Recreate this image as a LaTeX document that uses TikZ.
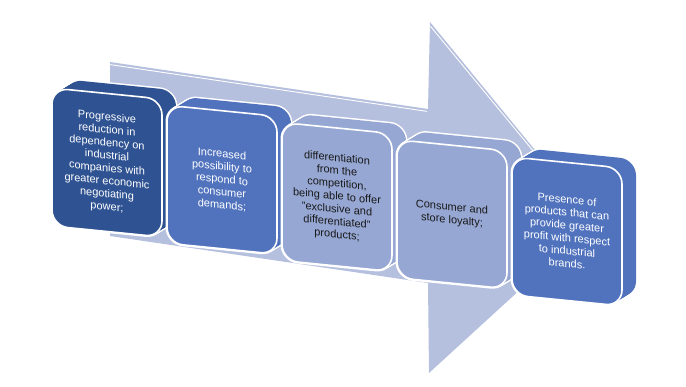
\documentclass[tikz,border=0pt]{standalone}
\usepackage{fontspec}
\setmainfont{Liberation Sans}
\definecolor{arrowc}{RGB}{181,191,222}
\definecolor{cdark}{RGB}{47,83,146}
\definecolor{cmid}{RGB}{81,115,190}
\definecolor{clight}{RGB}{150,167,211}
\definecolor{ctext}{RGB}{25,25,25}
\tikzset{
  stagetext/.style={transform shape, align=center, inner sep=0pt,
    font=\fontsize{11}{12.8}\selectfont},
  boxcorner/.style={rounded corners=16pt}
}
\newcommand{\stage}[6]{%
  \begin{scope}[shift={(#1,#2)}, yslant=-0.1]
    \foreach \k in {0,...,10}
      \path[fill=#3, draw=white, line width=3pt, boxcorner]
        (-55+1.4*\k,-69-\k) rectangle (55+1.4*\k,69-\k);
    \foreach \k in {0,...,10}
      \path[fill=#3, boxcorner]
        (-55+1.4*\k,-69-\k) rectangle (55+1.4*\k,69-\k);
    \path[fill=#3, draw=white, line width=1.6pt, boxcorner]
      (-55,-69) rectangle (55,69);
    \node[stagetext, text=#4] (#6) at (0,0) {#5};
  \end{scope}}
\begin{document}
\begin{tikzpicture}[x=1pt,y=-1pt]
  \useasboundingbox (0,0) rectangle (686,387);
  % big arrow
  \fill[arrowc] (110,62) -- (428,109) -- (430,22) -- (594,222) -- (429,373)
    -- (428,283) -- (110,236) -- cycle;
  \draw[white, line width=0.9pt] (110,64.6) -- (427,111.4);
  \draw[white, line width=0.9pt] (430.4,26.2) -- (560,183.5);
  % stages
  \stage{107}{162.5}{cdark}{white}{Progressive\\reduction in\\dependency on\\industrial\\companies with\\greater economic\\negotiating\\power;}{s1}
  \stage{222}{179.75}{cmid}{white}{Increased\\possibility to\\respond to\\consumer\\demands;}{s2}
  \stage{337}{197}{clight}{ctext}{differentiation\\from the\\competition,\\being able to offer\\"exclusive and\\differentiated"\\products;}{s3}
  \stage{452}{214.25}{clight}{ctext}{Consumer and\\store loyalty;}{s4}
  \stage{567}{231.5}{cmid}{white}{Presence of\\products that can\\provide greater\\profit with respect\\to industrial\\brands.}{s5}
\end{tikzpicture}
\end{document}
